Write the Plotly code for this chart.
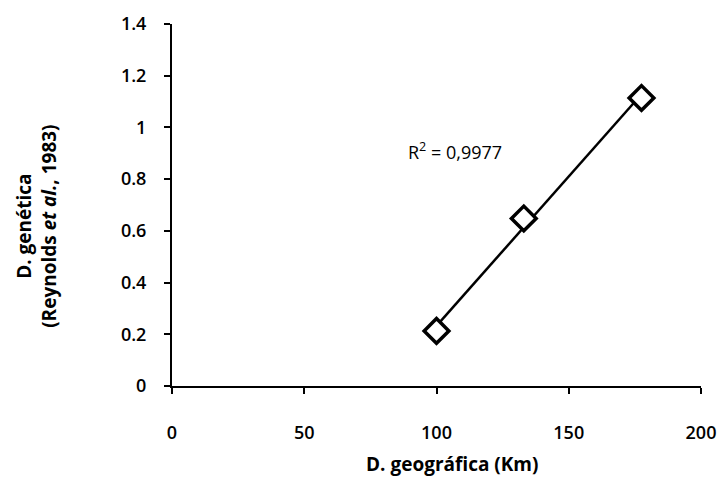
import numpy as np
import plotly.graph_objects as go

dist_geo = [100.0, 133.0, 177.5]
dist_gen = [0.213, 0.648, 1.114]
x_ticks = [0, 50, 100, 150, 200]
y_ticks = [0, 0.2, 0.4, 0.6, 0.8, 1.0, 1.2, 1.4]
y_tick_labels = ["0", "0.2", "0.4", "0.6", "0.8", "1", "1.2", "1.4"]
r2_text = "R<sup>2</sup> = 0,9977"
x_title = "D. geográfica (Km)"
y_title = "D. genética<br>(Reynolds <i>et al.</i>, 1983)"

slope, intercept = np.polyfit(dist_geo, dist_gen, 1)
fit_x = [min(dist_geo), max(dist_geo)]
fit_y = [slope * v + intercept for v in fit_x]

FONT = "Open Sans"

fig = go.Figure()
fig.add_trace(go.Scatter(x=fit_x, y=fit_y, mode="lines",
                         line=dict(color="black", width=2.5), showlegend=False))
fig.add_trace(go.Scatter(x=dist_geo, y=dist_gen, mode="markers",
                         marker=dict(symbol="diamond", size=19, color="white",
                                     line=dict(color="black", width=3.5)),
                         showlegend=False))

fig.add_annotation(x=107, y=0.91, text=r2_text, showarrow=False,
                   font=dict(family=FONT, size=18, color="black"))

# axis titles as annotations for precise placement
fig.add_annotation(xref="paper", yref="paper", x=0.53, y=-0.215,
                   xanchor="center", yanchor="middle", showarrow=False,
                   text=x_title,
                   font=dict(family=FONT, size=19, color="black", weight=700))
fig.add_annotation(xref="paper", yref="paper", x=-0.255, y=0.44,
                   xanchor="center", yanchor="middle", showarrow=False,
                   textangle=-90, text=y_title,
                   font=dict(family=FONT, size=19, color="black", weight=700))

# page body has an 8px margin, so figure is shifted by 8px
fig.update_layout(
    width=719, height=488,
    margin=dict(l=164, r=26, t=16, b=110, autoexpand=False),
    paper_bgcolor="white", plot_bgcolor="white",
    font=dict(family=FONT, color="black"),
    xaxis=dict(range=[0, 200], tickvals=x_ticks, showgrid=False, zeroline=False,
               showline=True, linecolor="black", linewidth=2, automargin=False,
               ticks="outside", ticklen=6, tickcolor="black", tickwidth=1.5,
               ticklabelstandoff=23,
               tickfont=dict(family=FONT, size=18, color="black", weight=600)),
    yaxis=dict(range=[0, 1.4], tickvals=y_ticks, ticktext=y_tick_labels,
               showgrid=False, zeroline=False, automargin=False,
               showline=True, linecolor="black", linewidth=2,
               ticks="outside", ticklen=6, tickcolor="black", tickwidth=1.5,
               ticklabelstandoff=14,
               tickfont=dict(family=FONT, size=18, color="black", weight=600)),
)

fig.write_html("out.html")
